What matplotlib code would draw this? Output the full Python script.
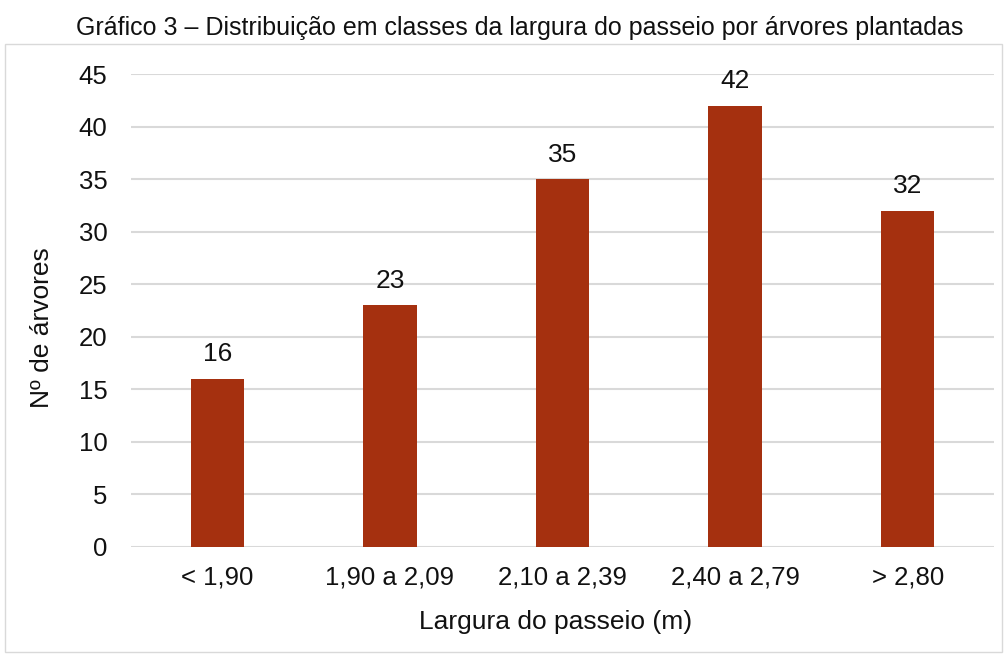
import matplotlib
matplotlib.use("Agg")
import matplotlib.pyplot as plt
from matplotlib.patches import Rectangle

categories = ["< 1,90", "1,90 a 2,09", "2,10 a 2,39", "2,40 a 2,79", "> 2,80"]
values = [16, 23, 35, 42, 32]
yticks = [0, 5, 10, 15, 20, 25, 30, 35, 40, 45]

plt.rcParams['font.family'] = ['Liberation Sans', 'DejaVu Sans']

W, H = 1006, 654
fig = plt.figure(figsize=(W/100, H/100), dpi=100)
ax = fig.add_axes([131/W, 1-547/H, (994-131)/W, (547-74)/H])

x = list(range(len(categories)))
ax.bar(x, values, width=0.31, color='#A5300F', zorder=3)
for xi, v in zip(x, values):
    ax.annotate(str(v), (xi, v), xytext=(0, 9), textcoords='offset points',
                ha='center', va='bottom', fontsize=19, color='#111111')

ax.set_xlim(-0.5, len(categories)-0.5)
ax.set_ylim(0, 45)
ax.set_yticks(yticks)
ax.set_yticklabels([str(t) for t in yticks], fontsize=18.5)
ax.set_xticks(x)
ax.set_xticklabels(categories, fontsize=18.5)
ax.tick_params(axis='both', length=0, colors='#111111')
ax.tick_params(axis='y', pad=17)
ax.tick_params(axis='x', pad=13)
ax.grid(axis='y', color='#d9d9d9', linewidth=1.5, zorder=0)
for s in ax.spines.values():
    s.set_visible(False)

fig.text(42/W, 1-328/H, "Nº de árvores", rotation=90, ha='center', va='center',
         fontsize=19, color='#111111')
fig.text(556/W, 1-622/H, "Largura do passeio (m)", ha='center', va='center',
         fontsize=19, color='#111111')

fig.text(520/W, 1-28/H, "Gráfico 3 – Distribuição em classes da largura do passeio por árvores plantadas",
         ha='center', va='center', fontsize=18, color='#111111')

fig.patches.append(Rectangle((5/W, 2/H), (1002-5)/W, (654-44-2)/H, transform=fig.transFigure,
                             fill=False, edgecolor='#d9d9d9', linewidth=1))

fig.savefig("out.png", dpi=100)
